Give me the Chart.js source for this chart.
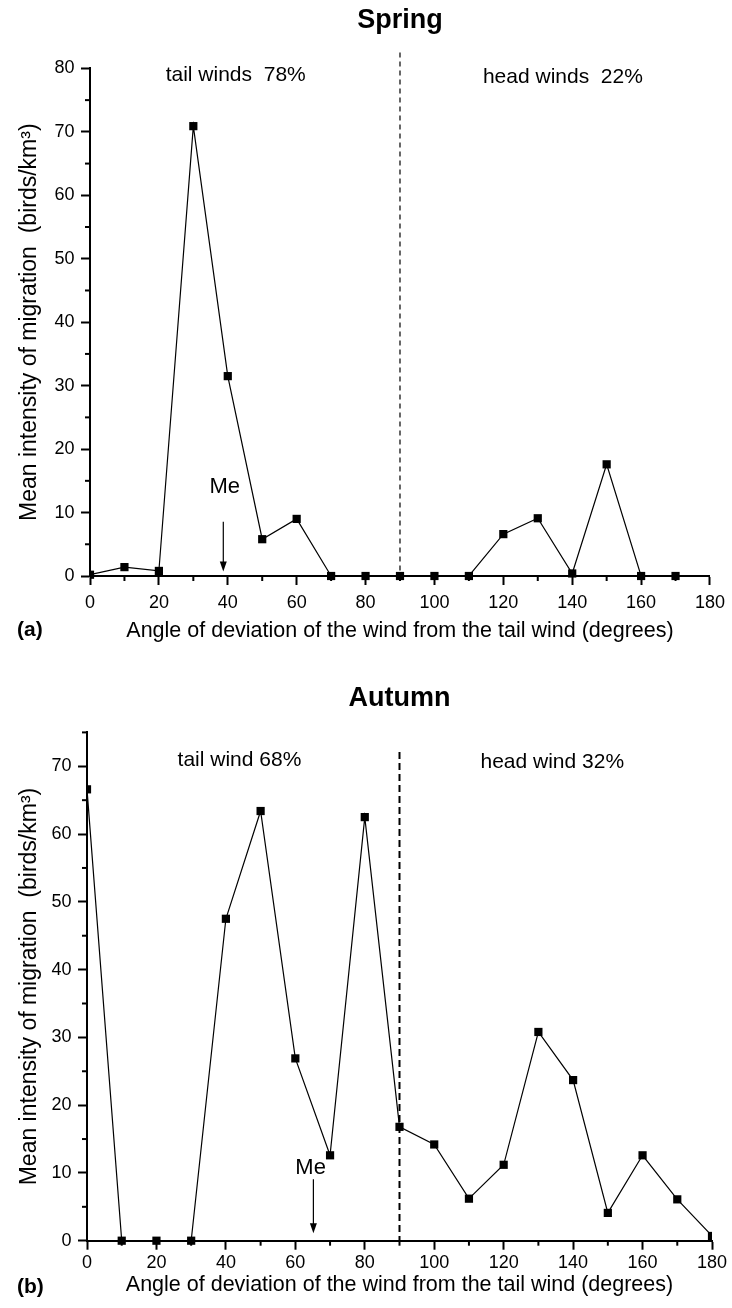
<!DOCTYPE html>
<html><head><meta charset="utf-8">
<script src="https://cdn.jsdelivr.net/npm/chart.js@4.4.1/dist/chart.umd.min.js"></script>
<style>
html,body{margin:0;padding:0;background:#fff;}
.panel{position:relative;width:732px;height:654px;}
</style></head><body>
<div class="panel"><canvas id="spring"></canvas></div>
<div class="panel"><canvas id="autumn"></canvas></div>
<script>
// ---- data ----
const springAngles = [0,10,20,30,40,50,60,70,80,90,100,110,120,130,140,150,160,170];
const springIntensity = [0.2,1.4,0.8,70.9,31.5,5.8,9.0,0,0,0,0,0,6.6,9.1,0.4,17.6,0,0];
const autumnAngles = [0,10,20,30,40,50,60,70,80,90,100,110,120,130,140,150,160,170,180];
const autumnIntensity = [66.6,0,0,0,47.5,63.4,26.9,12.6,62.5,16.8,14.2,6.2,11.2,30.8,23.7,4.1,12.6,6.1,0.7];

// ---- tick labels ----
const xTickLabels = [0,20,40,60,80,100,120,140,160,180];
const xMinorTicks = [10,30,50,70,90,110,130,150,170];
const springYTicks = [0,10,20,30,40,50,60,70,80];
const autumnYTicks = [0,10,20,30,40,50,60,70];
const yMinorTicks = [5,15,25,35,45,55,65,75];

// ---- texts ----
const xTitle = 'Angle of deviation of the wind from the tail wind (degrees)';
const yTitle = 'Mean intensity of migration  (birds/km\u00B3)';
const springTexts = ['tail winds  78%', 'head winds  22%'];
const autumnTexts = ['tail wind 68%', 'head wind 32%'];
const medianLabel = 'Me';
const springMedian = 38.7;
const autumnMedian = 65.2;
const boundaryAngle = 90;

Chart.defaults.font.family = "'Liberation Sans', Arial, Helvetica, sans-serif";
Chart.defaults.color = '#000';

const extrasPlugin = {
  id: 'extras',
  beforeDatasetsDraw(chart, args, o) {
    const {ctx, chartArea, scales: {x, y}} = chart;
    ctx.save();
    ctx.strokeStyle = '#000';
    ctx.lineWidth = o.dashWidth;
    ctx.setLineDash(o.dash);
    const px = x.getPixelForValue(boundaryAngle);
    ctx.beginPath();
    ctx.moveTo(px, y.getPixelForValue(o.dashTop));
    ctx.lineTo(px, chartArea.bottom);
    ctx.stroke();
    ctx.restore();
  },
  afterDraw(chart, args, o) {
    const {ctx, chartArea, scales: {x, y}} = chart;
    ctx.save();
    ctx.strokeStyle = '#000';
    ctx.fillStyle = '#000';
    ctx.lineWidth = 2;
    // minor ticks
    for (const v of xMinorTicks) {
      const px = x.getPixelForValue(v);
      ctx.beginPath(); ctx.moveTo(px, chartArea.bottom); ctx.lineTo(px, chartArea.bottom + 5); ctx.stroke();
    }
    for (const v of yMinorTicks) {
      if (v > y.max) continue;
      const py = y.getPixelForValue(v);
      ctx.beginPath(); ctx.moveTo(chartArea.left, py); ctx.lineTo(chartArea.left - 5, py); ctx.stroke();
    }
    // region texts
    ctx.textAlign = 'center';
    ctx.textBaseline = 'middle';
    ctx.font = "21px 'Liberation Sans', Arial, sans-serif";
    o.texts.forEach((t, i) => {
      ctx.fillText(t, x.getPixelForValue(o.textPos[i][0]), y.getPixelForValue(o.textPos[i][1]));
    });
    // median arrow
    ctx.font = "22px 'Liberation Sans', Arial, sans-serif";
    ctx.fillText(medianLabel, x.getPixelForValue(o.me[0]), y.getPixelForValue(o.me[1]));
    const ax = x.getPixelForValue(o.median);
    const aTop = y.getPixelForValue(o.arrow[0]);
    const aTip = y.getPixelForValue(o.arrow[1]);
    ctx.lineWidth = 1.2;
    ctx.beginPath(); ctx.moveTo(ax, aTop); ctx.lineTo(ax, aTip - 8); ctx.stroke();
    ctx.beginPath(); ctx.moveTo(ax - 3.5, aTip - 10); ctx.lineTo(ax + 3.5, aTip - 10); ctx.lineTo(ax, aTip); ctx.closePath(); ctx.fill();
    // panel label
    ctx.textAlign = 'left';
    ctx.font = "bold 21px 'Liberation Sans', Arial, sans-serif";
    ctx.fillText(o.panel, 17, o.panelY);
    ctx.restore();
  }
};

function makeChart(id, cfg) {
  const points = cfg.angles.map((a, i) => ({x: a, y: cfg.values[i]}));
  const axisCommon = {
    grid: {drawOnChartArea: false, drawTicks: true, tickLength: 9, tickWidth: 2, tickColor: '#000'},
    border: {display: true, color: '#000', width: 2}
  };
  return new Chart(document.getElementById(id), {
    type: 'line',
    data: {datasets: [{
      data: points,
      borderColor: '#000',
      borderWidth: 1.2,
      pointStyle: 'rect',
      pointRadius: 5.8,
      pointHoverRadius: 5.8,
      pointBackgroundColor: '#000',
      pointBorderWidth: 0,
      tension: 0,
      clip: {left: 0, right: 0, top: false, bottom: false}
    }]},
    options: {
      responsive: true,
      maintainAspectRatio: false,
      animation: false,
      events: [],
      layout: {padding: {left: 0, right: cfg.padRight, top: 0, bottom: 0}},
      plugins: {
        legend: {display: false},
        tooltip: {enabled: false},
        title: {display: true, text: cfg.title, fullSize: false, color: '#000',
          font: {size: 27, weight: 'bold'}, padding: cfg.titlePad},
        extras: cfg.extras
      },
      scales: {
        x: Object.assign({}, axisCommon, {
          type: 'linear', min: 0, max: 180,
          afterBuildTicks: s => { s.ticks = xTickLabels.map(v => ({value: v})); },
          afterFit: s => { s.height = cfg.xHeight; },
          ticks: {font: {size: 18}, padding: cfg.xTickPad, color: '#000', autoSkip: false, maxRotation: 0},
          title: {display: true, text: xTitle, color: '#000', font: {size: 21.5}, padding: {top: 0, bottom: 10}}
        }),
        y: Object.assign({}, axisCommon, {
          min: 0, max: cfg.yMax,
          afterBuildTicks: s => { s.ticks = cfg.yTicks.map(v => ({value: v})); },
          afterFit: s => { s.width = cfg.yWidth; },
          ticks: {font: {size: 18}, padding: 6.5, color: '#000'},
          title: {display: true, text: yTitle, color: '#000', font: {size: 23}, padding: {top: 16, bottom: 0}}
        })
      }
    },
    plugins: [extrasPlugin]
  });
}

makeChart('spring', {
  angles: springAngles, values: springIntensity, yMax: 80, yTicks: springYTicks,
  title: 'Spring', titlePad: {top: 4, bottom: 32}, padRight: 18, yWidth: 90, xHeight: 78, xTickPad: 7,
  extras: {
    dash: [5, 4], dashWidth: 1.2, dashTop: 82.5,
    texts: springTexts, textPos: [[42.3, 78.9], [137.3, 78.6]],
    me: [39.1, 14.0], median: springMedian, arrow: [8.55, 0.7],
    panel: '(a)', panelY: 630
  }
});

makeChart('autumn', {
  angles: autumnAngles, values: autumnIntensity, yMax: 75, yTicks: autumnYTicks,
  title: 'Autumn', titlePad: {top: 28, bottom: 18}, padRight: 20, yWidth: 87, xHeight: 67.3, xTickPad: 3,
  extras: {
    dash: [7, 4], dashWidth: 2, dashTop: 72.1,
    texts: autumnTexts, textPos: [[43.9, 70.9], [134, 70.6]],
    me: [64.4, 10.7], median: autumnMedian, arrow: [9.05, 1.1],
    panel: '(b)', panelY: 633.5
  }
});
</script>
</body></html>
